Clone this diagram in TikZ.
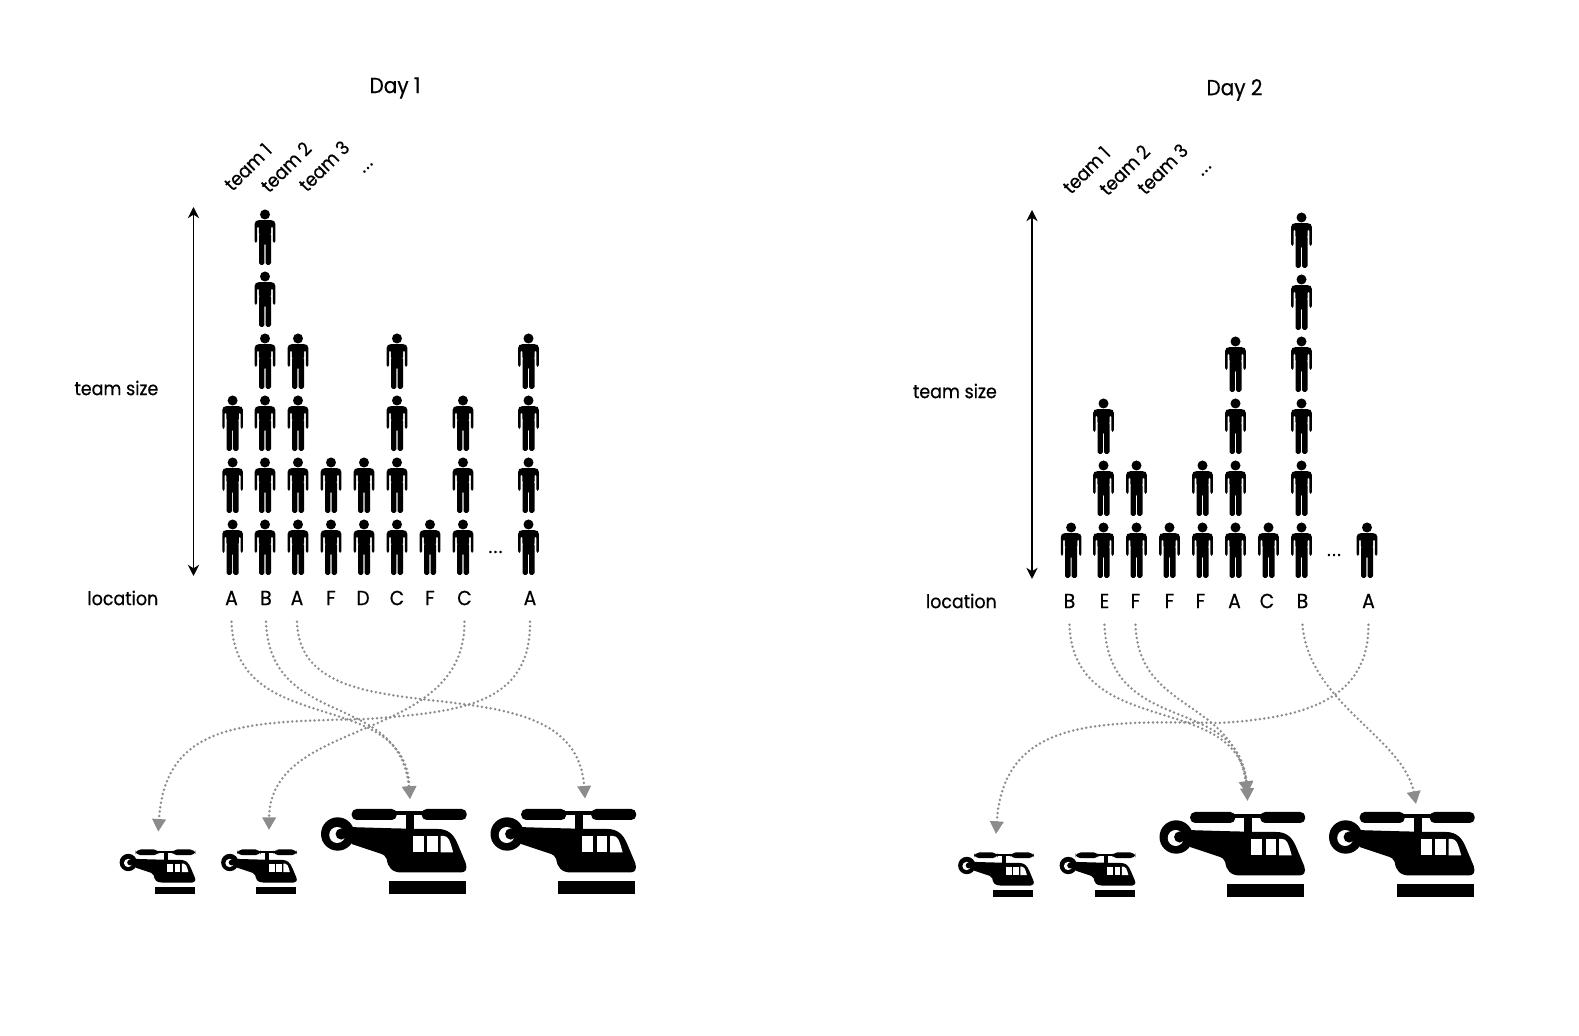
\documentclass[tikz,border=0pt]{standalone}
\usepackage{fontspec}
\setmainfont[FakeBold=0.5,FakeStretch=0.92]{Poppins}
\usepackage{tikz}
\usetikzlibrary{arrows.meta}

\tikzset{
  textlabel/.style={font=\fontsize{5.4}{6}\selectfont, inner sep=0pt},
  titlelabel/.style={font=\fontsize{6.2}{7}\selectfont, inner sep=0pt},
  locnode/.style={font=\fontsize{5.8}{6}\selectfont, inner sep=0pt, minimum height=4.6mm},
  routeline/.style={draw=black!45, line width=0.78pt, line cap=round, dash pattern=on 0pt off 1.27pt,
    -{Triangle[length=3.6pt,width=3.8pt,fill=black!45]}},
  person/.pic={
    \fill (0,-50.5) circle (5);
    % shoulders and arms
    \fill[rounded corners=0.5pt] (-10.3,-22) -- (-10.3,-43) -- (-8,-44.8) -- (8,-44.8) -- (10.3,-43) -- (10.3,-22)
      -- (7.9,-22) -- (7.9,-39) -- (6.2,-39) -- (6.2,-30) -- (-6.2,-30) -- (-6.2,-39) -- (-7.9,-39) -- (-7.9,-22) -- cycle;
    % legs
    \fill[rounded corners=0.5pt] (-6,-32) -- (6,-32) -- (6,0) -- (0.6,0) -- (0.6,-22) -- (-0.6,-22) -- (-0.6,0) -- (-6,0) -- cycle;
  },
  chopper/.pic={
    % rotor
    \fill[rounded corners=1.4pt] (30,0) rectangle (75,11);
    \fill[rounded corners=1.4pt] (100,0) rectangle (145,11);
    \fill (70,2.5) rectangle (105,6.5);
    \fill (84,5) rectangle (92,22);
    % tail ring
    \fill (16,25) circle (16.7);
    \fill[white] (15.5,26) circle (8);
    \fill (19.5,25) circle (5.6);
    % body
    \fill (26,18) .. controls (60,19) and (90,20) .. (116,20) .. controls (126,20) and (132,25) .. (136,35)
      -- (144,54) .. controls (146,60) and (144,63.5) .. (139,63.5) -- (80,63.5)
      .. controls (70,63.5) and (66,58) .. (65,50) .. controls (64,47) and (62,46) .. (60,45) -- (30,35) -- cycle;
    % windows
    \fill[white] (91,27) rectangle (102,43.5);
    \fill[white] (105.5,27) rectangle (116,43.5);
    \fill[white] (119,27) -- (122,27) .. controls (126,27) and (128,30) .. (131.5,43.5) -- (119,43.5) -- cycle;
    % skid
    \fill (67,72) rectangle (144,85);
  },
  % everything that Day 1 and Day 2 share
  dayframe/.pic={
    \node[textlabel] (team1) at (248,167) [rotate=45] {team 1};
    \node[textlabel] (team2) at (286,167) [rotate=45] {team 2};
    \node[textlabel] (team3) at (324,166) [rotate=45] {team 3};
    \node[textlabel] (more) at (368,168) [rotate=45] {.\kern0.4pt.\kern0.4pt.};
    \node[textlabel, anchor=east] (size) at (159,388) {team size};
    \node[textlabel, anchor=east] (location) at (159,598) {location};
    \node[textlabel] (dots) at (495.5,552) {.\kern0.4pt.\kern0.4pt.};
    \coordinate (top) at (193.5,207);
    \coordinate (bottom) at (193.5,576);
    \draw[{Stealth[length=3.2pt,width=3.2pt]}-{Stealth[length=3.2pt,width=3.2pt]}, line width=0.5pt] (top) -- (bottom);
    \pic[scale=0.52] at (120,849.5) {chopper};
    \pic[scale=0.52] at (221.5,849.5) {chopper};
    \pic at (321.7,809) {chopper};
    \pic at (491.2,809) {chopper};
  }
}

\begin{document}
\begin{tikzpicture}[x=0.1mm,y=-0.1mm]
  \useasboundingbox (0,0) rectangle (1579,1036);

  % Day 1
  \begin{scope}[name prefix=first-]
    \node[titlelabel] (title) at (395,88) {Day 1};
    \pic {dayframe};

    % Teams
    \foreach \xc/\lx/\loc/\num [count=\i] in {232.6/231.5/A/3, 265/266/B/6, 298/297/A/4, 331/331/F/2, 364/363/D/2,
        397/397/C/4, 430/430/F/1, 463/464.5/C/3, 528.5/530/A/4} {
      \node[locnode] (loc\i) at (\lx,598) {\loc};
      \foreach \r in {1,...,\num}
        \pic at (\xc,{575-62*(\r-1)}) {person};
    }

    % Routes
    \coordinate (smallone) at (158.3,831.7);
    \coordinate (smalltwo) at (269,830);
    \coordinate (bigone) at (410,799);
    \coordinate (bigtwo) at (585,798.6);
    \coordinate (bend) at (367,719);
    \draw[routeline] (loc1.south) .. controls (235,740) and (405,685) .. (bigone);
    \draw[routeline] (loc2.south) .. controls (270,730) and (400,690) .. (bigone);
    \draw[routeline] (loc3.south) .. controls (300,750) and (575,650) .. (bigtwo);
    \draw[routeline] (loc8.south) .. controls (465,745) and (270,715) .. (smalltwo);
    \draw[routeline] (loc9.south) .. controls (531,705) and (460,712) .. (bend)
      .. controls (250,722) and (165,720) .. (smallone);
  \end{scope}

  % Day 2
  \begin{scope}[shift={(838.5,3)}, name prefix=second-]
    \node[titlelabel] (title) at (396,87) {Day 2};
    \pic {dayframe};

    % Teams
    \foreach \xc/\lx/\loc/\num [count=\i] in {232.6/231/B/1, 265/266/E/3, 298/297/F/2, 331/331/F/1, 364/362/F/2,
        397/396/A/4, 430/428.5/C/1, 463/464/B/6, 528.5/530/A/1} {
      \node[locnode] (loc\i) at (\lx,598) {\loc};
      \foreach \r in {1,...,\num}
        \pic at (\xc,{575-62*(\r-1)}) {person};
    }

    % Routes
    \coordinate (smallone) at (157.5,831);
    \coordinate (bigone) at (409,798);
    \coordinate (bigonehigh) at (409,791);
    \coordinate (bigtwo) at (577.5,801);
    \coordinate (bend) at (380,720);
    \draw[routeline] (loc1.south) .. controls (235,740) and (405,685) .. (bigone);
    \draw[routeline] (loc2.south) .. controls (270,735) and (400,690) .. (bigonehigh);
    \draw[routeline] (loc3.south) .. controls (300,710) and (395,695) .. (bigonehigh);
    \draw[routeline] (loc8.south) .. controls (470,700) and (565,735) .. (bigtwo);
    \draw[routeline] (loc9.south) .. controls (530,695) and (470,715) .. (bend)
      .. controls (260,718) and (165,715) .. (smallone);
  \end{scope}
\end{tikzpicture}
\end{document}
